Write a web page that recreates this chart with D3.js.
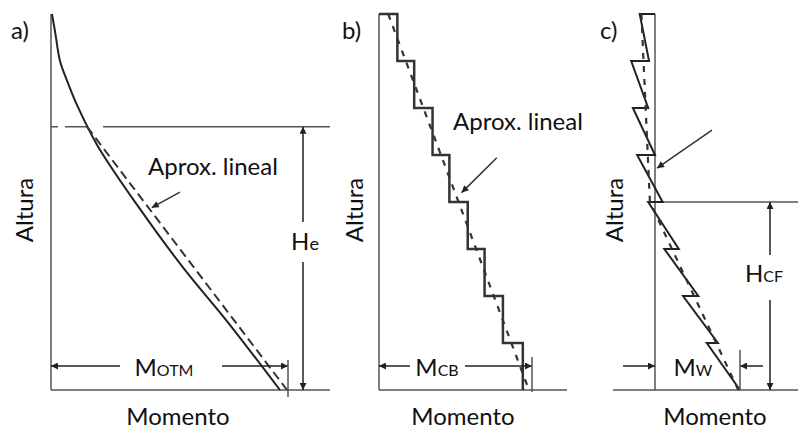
<!DOCTYPE html>
<html>
<head>
<meta charset="utf-8">
<script src="https://cdn.jsdelivr.net/npm/d3@7"></script>
<style>
  body { margin: 0; background: #fff; }
  svg { display: block; }
  text { font-family: Lato, "Open Sans", sans-serif; fill: #111; }
</style>
</head>
<body>
<svg id="chart" width="798" height="431"></svg>
<script>
// ---- Data -------------------------------------------------------------
// Height measured in stories (ground = 0, roof = 8); moment in % of base value.
const panelLabels = ["a)", "b)", "c)"];
const axisTitleX = "Momento";
const axisTitleY = "Altura";
const approxLabel = "Aprox. lineal";

// a) cantilever wall: moment envelope and its linear approximation
const cantileverHeight = [8, 7.6, 7.0, 6.5, 6.06, 5.21, 3.89, 2.62, 1.43, 0];
const cantileverMoment = [0.4, 1.8, 3.8, 7.4, 11, 19.5, 37, 55.5, 74.8, 96.6];
const linearHeightA = [5.6, 0];
const linearMomentA = [15.2, 99.6];
const heightHe = 5.6;
const momentOTM = 100;

// b) coupling beams: moment accumulated story by story (top story first)
const storyTop = [8, 7, 6, 5, 4, 3, 2, 1];
const beamMoment = [12, 23, 35, 46, 58, 69, 81, 94];
const linearHeightB = [8, 0];
const linearMomentB = [6, 98];
const momentCB = 100;

// c) individual wall: moment at top and bottom of each story (top story first)
const wallMomentTop = [-18, -28, -26, -21, -8, 11, 33, 61];
const wallMomentBottom = [-7, -8, 0, 9, 28, 51, 74, 100];
const linearHeightC = [8, 4, 0];
const linearMomentC = [-16, -6, 98];
const heightCF = 4;
const momentW = 100;

// ---- Layout -----------------------------------------------------------
const svg = d3.select("#chart");
const ink = "#222";
const axisInk = "#555";

const y = d3.scaleLinear().domain([0, 8]).range([390, 14]);
const xa = d3.scaleLinear().domain([0, 100]).range([51, 288]);
const xb = d3.scaleLinear().domain([0, 100]).range([379, 532]);
const xc = d3.scaleLinear().domain([0, 100]).range([655, 740]);

svg.append("defs").append("marker")
  .attr("id", "arrow")
  .attr("viewBox", "0 0 10 10")
  .attr("refX", 10).attr("refY", 5)
  .attr("markerWidth", 10).attr("markerHeight", 7)
  .attr("markerUnits", "userSpaceOnUse")
  .attr("orient", "auto")
  .append("path").attr("d", "M0,0 L10,5 L0,10 Z").attr("fill", ink);

function seg(x1, y1, x2, y2, opts = {}) {
  const l = svg.append("line")
    .attr("x1", x1).attr("y1", y1).attr("x2", x2).attr("y2", y2)
    .attr("stroke", opts.stroke || axisInk)
    .attr("stroke-width", opts.width || 1.5);
  if (opts.dash) l.attr("stroke-dasharray", opts.dash);
  if (opts.arrow) l.attr("marker-end", "url(#arrow)");
  return l;
}

function dimLabel(x, yy, main, sub, subSize = 16) {
  const t = svg.append("text").attr("x", x).attr("y", yy)
    .attr("text-anchor", "middle");
  t.append("tspan").attr("font-size", 24).text(main);
  t.append("tspan").attr("font-size", subSize).text(sub);
}

function titles(labelX, labelText, altX, momX) {
  svg.append("text").attr("x", labelX).attr("y", 39)
    .attr("font-size", 24).text(labelText);
  svg.append("text")
    .attr("transform", `translate(${altX},210) rotate(-90)`)
    .attr("text-anchor", "middle").attr("font-size", 24).text(axisTitleY);
  svg.append("text").attr("x", momX).attr("y", 425)
    .attr("text-anchor", "middle").attr("font-size", 24).text(axisTitleX);
}

const lineOf = sx => d3.line().x(d => sx(d[1])).y(d => y(d[0]));

// ---- a) ---------------------------------------------------------------
seg(xa(0), y(8), xa(0), y(0));
seg(xa(0), y(0), 330, y(0));
// He level: dashed near the wall, then solid to the right
seg(xa(0), y(heightHe), 88, y(heightHe), { dash: "7,7,22,100" });
seg(103, y(heightHe), 330, y(heightHe));

svg.append("path")
  .datum(d3.zip(cantileverHeight, cantileverMoment))
  .attr("d", lineOf(xa).curve(d3.curveCatmullRom))
  .attr("fill", "none").attr("stroke", ink).attr("stroke-width", 2);
svg.append("path")
  .datum(d3.zip(linearHeightA, linearMomentA))
  .attr("d", lineOf(xa))
  .attr("fill", "none").attr("stroke", "#333").attr("stroke-width", 2)
  .attr("stroke-dasharray", "9,5");

// He dimension
const heX = 303;
seg(heX, 222, heX, y(heightHe), { stroke: ink, arrow: true });
seg(heX, 262, heX, y(0), { stroke: ink, arrow: true });
dimLabel(305, 250, "H", "e", 18);

// MOTM dimension
const dimY = 366;
seg(120, dimY, xa(0), dimY, { stroke: ink, arrow: true });
seg(222, dimY, xa(momentOTM), dimY, { stroke: ink, arrow: true });
seg(xa(momentOTM), 360, xa(momentOTM), 397);
dimLabel(164, 376, "M", "OTM");

svg.append("text").attr("x", 148).attr("y", 175).attr("font-size", 24).text(approxLabel);
seg(xa(54.4), y(4.21), xa(42.5), y(3.88), { stroke: "#333", arrow: true });

titles(11, panelLabels[0], 33, 178);

// ---- b) ---------------------------------------------------------------
seg(xb(0), y(8), xb(0), y(0));
seg(xb(0), y(0), 567, y(0));

const stairPts = [[8, 0]];
storyTop.forEach((h, i) => {
  stairPts.push([h, beamMoment[i]]);
  stairPts.push([h - 1, beamMoment[i]]);
});
svg.append("path")
  .datum(stairPts)
  .attr("d", lineOf(xb))
  .attr("fill", "none").attr("stroke", "#333").attr("stroke-width", 2.5);
svg.append("path")
  .datum(d3.zip(linearHeightB, linearMomentB))
  .attr("d", lineOf(xb))
  .attr("fill", "none").attr("stroke", "#333").attr("stroke-width", 2.2)
  .attr("stroke-dasharray", "6,7");

seg(410, dimY, xb(0), dimY, { stroke: ink, arrow: true });
seg(465, dimY, xb(momentCB), dimY, { stroke: ink, arrow: true });
seg(xb(momentCB), 357, xb(momentCB), 392);
dimLabel(437, 376, "M", "CB");

svg.append("text").attr("x", 453).attr("y", 130).attr("font-size", 24).text(approxLabel);
seg(xb(77), y(4.94), xb(54), y(4.2), { stroke: "#333", arrow: true });

titles(342, panelLabels[1], 363, 463);

// ---- c) ---------------------------------------------------------------
seg(xc(0), y(8), xc(0), y(0));
seg(613, y(0), 798, y(0));
seg(660, y(heightCF), 798, y(heightCF));

const sawPts = [[8, 0]];
storyTop.forEach((h, i) => {
  sawPts.push([h, wallMomentTop[i]]);
  sawPts.push([h - 1, wallMomentBottom[i]]);
});
svg.append("path")
  .datum(sawPts)
  .attr("d", lineOf(xc))
  .attr("fill", "none").attr("stroke", ink).attr("stroke-width", 2);
svg.append("path")
  .datum(d3.zip(linearHeightC, linearMomentC))
  .attr("d", lineOf(xc))
  .attr("fill", "none").attr("stroke", "#333").attr("stroke-width", 2.2)
  .attr("stroke-dasharray", "6,7");

// HCF dimension
const hcfX = 770;
seg(hcfX, 255, hcfX, y(heightCF), { stroke: ink, arrow: true });
seg(hcfX, 300, hcfX, y(0), { stroke: ink, arrow: true });
dimLabel(764, 282, "H", "CF");

// Mw dimension
seg(623, dimY, xc(0), dimY, { stroke: ink, arrow: true });
seg(763, dimY, xc(momentW), dimY, { stroke: ink, arrow: true });
seg(xc(momentW), 350, xc(momentW), 390);
dimLabel(693, 376, "M", "W");

seg(xc(67), y(5.53), xc(2.4), y(4.72), { stroke: "#333", arrow: true });

titles(600, panelLabels[2], 623, 715);
</script>
</body>
</html>
